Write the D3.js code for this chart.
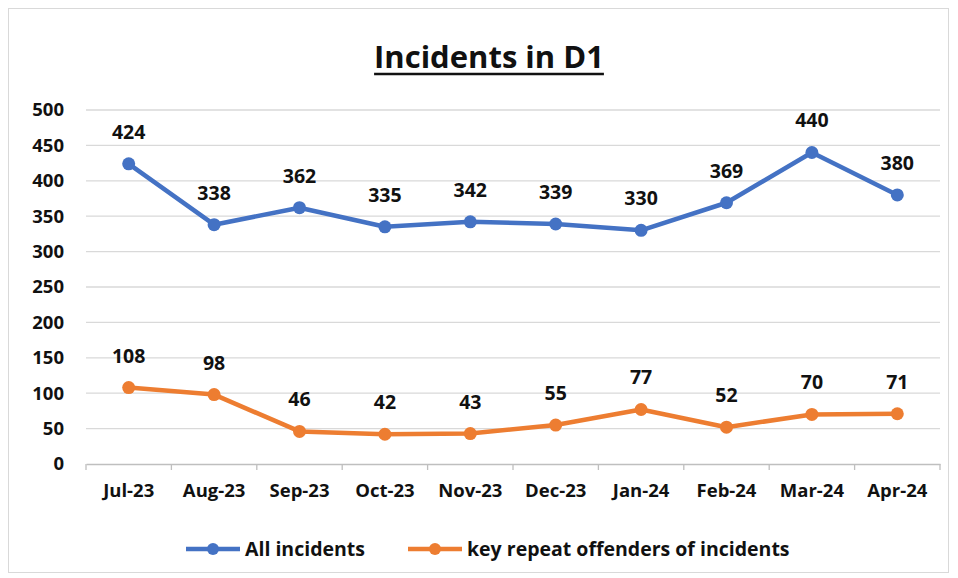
<!DOCTYPE html>
<html lang="en">
<head>
    <meta charset="UTF-8">
    <title>Incidents in D1</title>
    <script src="https://d3js.org/d3.v7.min.js"></script>
    <style>
        body { margin: 0; background: #fff; }
        svg text { font-family: 'Open Sans', 'Lato', sans-serif; font-weight: 700; fill: #111; }
    </style>
</head>
<body>
    <div id="chart"></div>
    <script>
        // data
        const months = ['Jul-23', 'Aug-23', 'Sep-23', 'Oct-23', 'Nov-23', 'Dec-23', 'Jan-24', 'Feb-24', 'Mar-24', 'Apr-24'];
        const allIncidents = [424, 338, 362, 335, 342, 339, 330, 369, 440, 380];
        const repeatOffenders = [108, 98, 46, 42, 43, 55, 77, 52, 70, 71];
        const yTicks = [0, 50, 100, 150, 200, 250, 300, 350, 400, 450, 500];

        const series = [
            { name: 'All incidents', values: allIncidents, color: '#4472C4' },
            { name: 'key repeat offenders of incidents', values: repeatOffenders, color: '#ED7D31' }
        ];

        const width = 958, height = 578;
        const margin = { left: 86, right: 18, top: 110, bottom: 114 };
        const font = "'Open Sans', 'Lato', sans-serif";

        const svg = d3.select('#chart').append('svg')
            .attr('width', width)
            .attr('height', height);

        // outer frame
        svg.append('rect')
            .attr('x', 8.5).attr('y', 8.5)
            .attr('width', 940).attr('height', 564)
            .attr('fill', 'none').attr('stroke', '#d9d9d9');

        const x = d3.scaleBand()
            .domain(months)
            .range([margin.left, width - margin.right]);

        const y = d3.scaleLinear()
            .domain([0, 500])
            .range([height - margin.bottom, margin.top]);

        // gridlines
        svg.append('g')
            .selectAll('line')
            .data(yTicks.filter(d => d > 0))
            .enter().append('line')
            .attr('x1', margin.left).attr('x2', width - margin.right)
            .attr('y1', d => y(d)).attr('y2', d => y(d))
            .attr('stroke', '#d9d9d9').attr('stroke-width', 1.3);

        // y axis labels
        svg.append('g')
            .selectAll('text')
            .data(yTicks)
            .enter().append('text')
            .attr('x', 64)
            .attr('y', d => y(d))
            .attr('dy', '0.35em')
            .attr('text-anchor', 'end')
            .style('font-size', '18.5px')
            .text(d => d);

        // x axis
        const xAxis = svg.append('g')
            .attr('transform', `translate(0, ${y(0)})`)
            .call(d3.axisBottom(x).tickSize(0).tickPadding(20));
        xAxis.select('.domain').attr('stroke', '#bfbfbf').attr('stroke-width', 1.3);
        xAxis.selectAll('text')
            .style('font-size', '18.5px')
            .style('font-family', font)
            .style('font-weight', 700)
            .attr('fill', '#111');
        // tick marks at band boundaries
        xAxis.append('g')
            .selectAll('line')
            .data(months.concat(['end']))
            .enter().append('line')
            .attr('x1', (d, i) => margin.left + i * x.step())
            .attr('x2', (d, i) => margin.left + i * x.step())
            .attr('y1', 0).attr('y2', 6)
            .attr('stroke', '#bfbfbf').attr('stroke-width', 1.3);

        const cx = i => x(months[i]) + x.bandwidth() / 2;

        const line = d3.line()
            .x((d, i) => cx(i))
            .y(d => y(d));

        series.forEach(s => {
            const g = svg.append('g');
            g.append('path')
                .datum(s.values)
                .attr('d', line)
                .attr('fill', 'none')
                .attr('stroke', s.color)
                .attr('stroke-width', 4.5)
                .attr('stroke-linejoin', 'round');
            g.selectAll('circle')
                .data(s.values)
                .enter().append('circle')
                .attr('cx', (d, i) => cx(i))
                .attr('cy', d => y(d))
                .attr('r', 6.5)
                .attr('fill', s.color);
            g.selectAll('text')
                .data(s.values)
                .enter().append('text')
                .attr('x', (d, i) => cx(i))
                .attr('y', d => y(d) - 25)
                .attr('text-anchor', 'middle')
                .style('font-size', '19.5px')
                .text(d => d);
        });

        // title
        const title = svg.append('text')
            .attr('x', 489).attr('y', 68)
            .attr('text-anchor', 'middle')
            .style('font-size', '31px')
            .text('Incidents in D1');
        const tb = title.node().getBBox();
        svg.append('line')
            .attr('x1', tb.x).attr('x2', tb.x + tb.width)
            .attr('y1', 74).attr('y2', 74)
            .attr('stroke', '#111').attr('stroke-width', 2.5);

        // legend
        const legendX = [186, 408];
        series.forEach((s, i) => {
            const lg = svg.append('g').attr('transform', `translate(${legendX[i]}, 549)`);
            lg.append('line')
                .attr('x1', 0).attr('x2', 54)
                .attr('stroke', s.color).attr('stroke-width', 4.5);
            lg.append('circle').attr('cx', 27).attr('r', 6).attr('fill', s.color);
            lg.append('text')
                .attr('x', 59).attr('dy', '0.35em')
                .style('font-size', '19.5px')
                .text(s.name);
        });
    </script>
</body>
</html>
